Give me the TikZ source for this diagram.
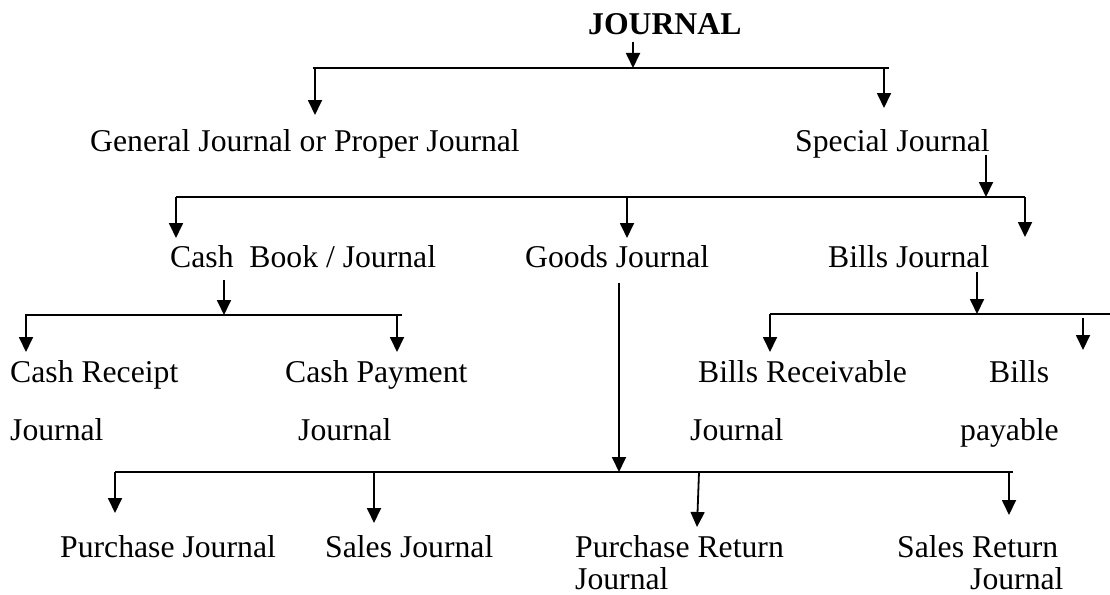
\documentclass[tikz,border=0pt]{standalone}
\usepackage{fontspec}
\setmainfont{Liberation Serif}
\usetikzlibrary{arrows.meta}
\newcommand\myfs{\fontsize{31.7}{38}\selectfont}
\begin{document}
\begin{tikzpicture}[x=1pt,y=-1pt,
  lbl/.style={anchor=base west,inner sep=0pt,font=\myfs},
  ln/.style={line width=1.8pt},
  arr/.style={line width=1.8pt,-{Triangle[length=15pt,width=14pt]}}]
\useasboundingbox (0,0) rectangle (1110,594);
% texts
\node[lbl,font=\myfs\bfseries] (jr) at (588,35) {JOURNAL};
\node[lbl] (gen) at (90,151) {General Journal or Proper Journal};
\node[lbl] (spe) at (795,151) {Special Journal};
\node[lbl] (cbk) at (170,267) {Cash~~Book / Journal};
\node[lbl] (gds) at (525,267) {Goods Journal};
\node[lbl] (bil) at (828,267) {Bills Journal};
\node[lbl] (crc) at (10,382) {Cash Receipt};
\node[lbl] (crj) at (10,440) {Journal};
\node[lbl] (cpy) at (285,382) {Cash Payment};
\node[lbl] (cpj) at (298,440) {Journal};
\node[lbl] (brc) at (698,382) {Bills Receivable};
\node[lbl] (brj) at (690,440) {Journal};
\node[lbl] (bpy) at (989,382) {Bills};
\node[lbl] (bpj) at (960,440) {payable};
\node[lbl] (pj) at (60,557) {Purchase Journal};
\node[lbl] (sj) at (325,557) {Sales Journal};
\node[lbl] (pr) at (575,557) {Purchase Return};
\node[lbl] (prj) at (575,589) {Journal};
\node[lbl] (sr) at (897,557) {Sales Return};
\node[lbl] (srj) at (970,589) {Journal};
% coordinates
\coordinate (j0) at (633,42);   \coordinate (j1) at (633,68);
\coordinate (h1a) at (313,68);  \coordinate (h1b) at (889,68);
\coordinate (g0) at (315,68);   \coordinate (g1) at (315,115);
\coordinate (s0) at (884,68);   \coordinate (s1) at (884,108);
\coordinate (sp0) at (986,155); \coordinate (sp1) at (986,197);
\coordinate (h2a) at (176,197); \coordinate (h2b) at (1025,197);
\coordinate (c1) at (176,238);
\coordinate (gd0) at (627,197); \coordinate (gd1) at (627,238);
\coordinate (b1) at (1025,237);
\coordinate (cb0) at (224,280); \coordinate (cb1) at (224,315);
\coordinate (h3a) at (25,315);  \coordinate (h3b) at (402,315);
\coordinate (cr0) at (26,315);  \coordinate (cr1) at (26,352);
\coordinate (cp0) at (397,315); \coordinate (cp1) at (397,352);
\coordinate (gl0) at (619,283); \coordinate (gl1) at (619,472);
\coordinate (h4a) at (115,472); \coordinate (h4b) at (1013,472);
\coordinate (bj0) at (977,272); \coordinate (bj1) at (977,314);
\coordinate (h5a) at (770,314); \coordinate (h5b) at (1110,314);
\coordinate (br1) at (770,352);
\coordinate (bp0) at (1083,318); \coordinate (bp1) at (1083,350);
\coordinate (p1) at (115,513);
\coordinate (sa0) at (374,472); \coordinate (sa1) at (374,523);
\coordinate (pr0) at (699,472); \coordinate (pr1) at (697,527);
\coordinate (sr0) at (1009,472); \coordinate (sr1) at (1009,515);
% lines
\draw[ln] (h1a) -- (h1b);
\draw[ln] (h2a) -- (h2b);
\draw[ln] (h3a) -- (h3b);
\draw[ln] (h4a) -- (h4b);
\draw[ln] (h5a) -- (h5b);
% arrows
\draw[arr] (j0) -- (j1);
\draw[arr] (g0) -- (g1);
\draw[arr] (s0) -- (s1);
\draw[arr] (sp0) -- (sp1);
\draw[arr] (h2a) -- (c1);
\draw[arr] (gd0) -- (gd1);
\draw[arr] (h2b) -- (b1);
\draw[arr] (cb0) -- (cb1);
\draw[arr] (cr0) -- (cr1);
\draw[arr] (cp0) -- (cp1);
\draw[arr] (gl0) -- (gl1);
\draw[arr] (bj0) -- (bj1);
\draw[arr] (h5a) -- (br1);
\draw[arr] (bp0) -- (bp1);
\draw[arr] (h4a) -- (p1);
\draw[arr] (sa0) -- (sa1);
\draw[arr] (pr0) -- (pr1);
\draw[arr] (sr0) -- (sr1);
\end{tikzpicture}
\end{document}
